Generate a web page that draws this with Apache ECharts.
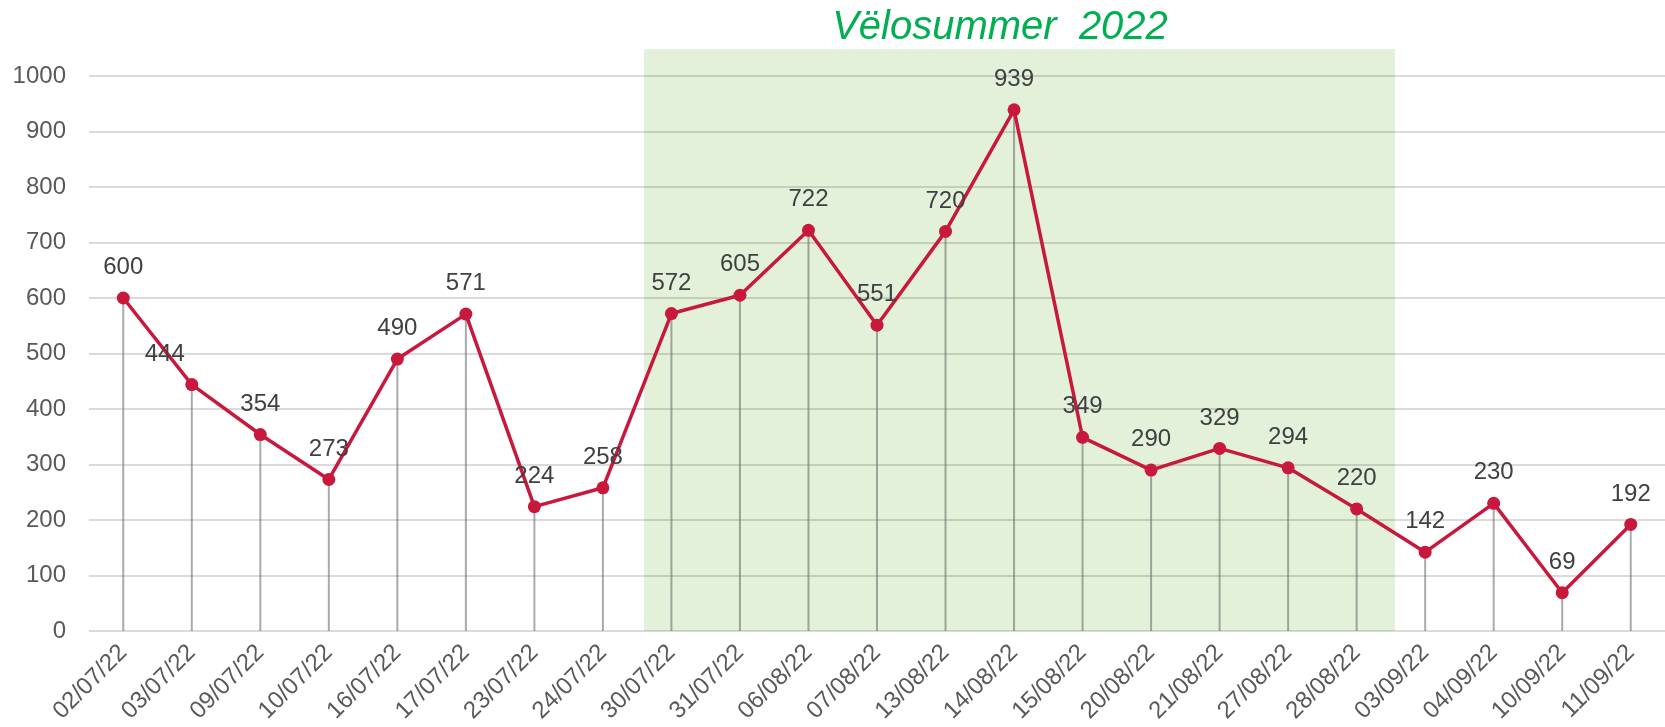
<!DOCTYPE html>
<html>
<head>
<meta charset="utf-8">
<title>Vëlosummer 2022</title>
<script src="https://cdn.jsdelivr.net/npm/echarts@6/dist/echarts.min.js"></script>
<style>
    html, body { margin: 0; padding: 0; background: #fff; }
    #main { width: 1665px; height: 727px; }
</style>
</head>
<body>
<div id="main"></div>
<script>
// dates (x axis)
const dates = ['02/07/22', '03/07/22', '09/07/22', '10/07/22', '16/07/22', '17/07/22',
    '23/07/22', '24/07/22', '30/07/22', '31/07/22', '06/08/22', '07/08/22', '13/08/22',
    '14/08/22', '15/08/22', '20/08/22', '21/08/22', '27/08/22', '28/08/22', '03/09/22',
    '04/09/22', '10/09/22', '11/09/22'];
// counts per day
const counts = [600, 444, 354, 273, 490, 571, 224, 258, 572, 605, 722, 551, 720,
    939, 349, 290, 329, 294, 220, 142, 230, 69, 192];
// y axis ticks
const yTicks = [0, 100, 200, 300, 400, 500, 600, 700, 800, 900, 1000];
// the highlighted summer period
const summerTitle = 'Vëlosummer  2022';
const summerFrom = ['24/07/22', '30/07/22'];
const summerTo = ['28/08/22', '03/09/22'];

let chart = echarts.init(document.getElementById('main'));

// the label of 03/07 sits a bit to the left in the original
let lineData = counts.map((v, i) => {
    if (dates[i] === '03/07/22') {
        return { value: v, label: { offset: [-27, 0] } };
    }
    return v;
});

let option = {
    animation: false,
    grid: {
        left: 89,
        right: 0,
        top: 76,
        bottom: 96
    },
    xAxis: {
        type: 'category',
        data: dates,
        axisLine: { show: false },
        axisTick: { show: false },
        axisLabel: {
            rotate: 45,
            margin: 18,
            color: '#595959',
            fontSize: 24,
            fontFamily: 'Liberation Sans'
        }
    },
    yAxis: {
        type: 'value',
        min: yTicks[0],
        max: yTicks[yTicks.length - 1],
        interval: yTicks[1] - yTicks[0],
        axisLine: { show: false },
        axisTick: { show: false },
        axisLabel: {
            margin: 23,
            color: '#595959',
            fontSize: 24,
            fontFamily: 'Liberation Sans',
            formatter: v => String(v)
        },
        splitLine: {
            lineStyle: { color: 'rgba(0,0,0,0.14)', width: 2 }
        }
    },
    series: [
        {
            // drop lines
            type: 'bar',
            data: counts,
            barWidth: 2,
            silent: true,
            z: 1,
            itemStyle: { color: 'rgba(100,100,100,0.55)' }
        },
        {
            type: 'line',
            data: lineData,
            symbol: 'circle',
            symbolSize: 13,
            z: 3,
            lineStyle: { color: '#C8193C', width: 3.5 },
            itemStyle: { color: '#C8193C' },
            label: {
                show: true,
                position: 'top',
                distance: 12,
                color: '#404040',
                fontSize: 24,
                fontFamily: 'Liberation Sans'
            }
        }
    ]
};
chart.setOption(option);

// green band for the summer period
function px(cat) {
    return chart.convertToPixel({ xAxisIndex: 0 }, cat);
}
let a0 = px(summerFrom[0]), a1 = px(summerFrom[1]);
let b0 = px(summerTo[0]), b1 = px(summerTo[1]);
let x0 = a0 + (a1 - a0) * 0.6;
let x1 = b0 + (b1 - b0) * 0.56;
let yTop = chart.convertToPixel({ yAxisIndex: 0 }, 1048);
let yBottom = chart.convertToPixel({ yAxisIndex: 0 }, 0);

chart.setOption({
    graphic: [
        {
            type: 'rect',
            z: -10,
            silent: true,
            shape: { x: x0, y: yTop, width: x1 - x0, height: yBottom - yTop },
            style: { fill: '#E3F1DA' }
        },
        {
            type: 'text',
            x: 1000,
            y: 8,
            style: {
                text: summerTitle,
                fill: '#00B050',
                font: 'italic 40px "Liberation Sans"',
                textAlign: 'center',
                textVerticalAlign: 'top'
            }
        }
    ]
});
</script>
</body>
</html>
